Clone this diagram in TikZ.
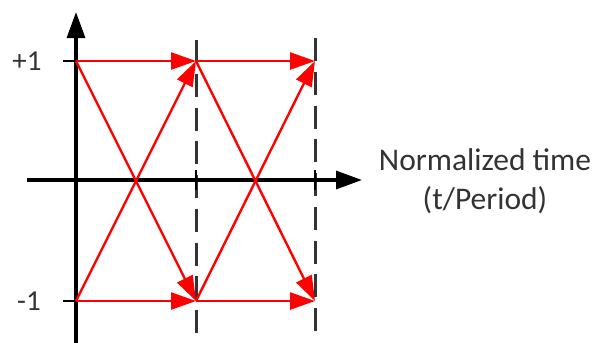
\documentclass[tikz,border=0pt]{standalone}
\usepackage{fontspec}
\setmainfont{Carlito}
\usetikzlibrary{arrows.meta}
\begin{document}
\begin{tikzpicture}[x=1pt,y=-1pt,
  axis/.style={line width=3.2pt,black},
  axarrow/.style={axis,-{Triangle[length=26pt,width=18pt]}},
  grid/.style={line width=3pt,black!80,dash pattern=on 23pt off 10.75pt},
  sig/.style={line width=2.4pt,red,-{Triangle[length=25pt,width=17pt]}},
  lab/.style={font=\fontsize{29}{34}\selectfont,text=black!80,inner sep=0pt},
  tlab/.style={font=\fontsize{31.5}{39}\selectfont,text=black!80,inner sep=0pt,align=center}]
\useasboundingbox (0,0) rectangle (595,343);
% coordinates
\coordinate (P0) at (76,61);
\coordinate (M0) at (76,301);
\coordinate (P1) at (196,61);
\coordinate (M1) at (196,301);
\coordinate (P2) at (315,61);
\coordinate (M2) at (315,301);
\coordinate (yb) at (76,343);
\coordinate (yt) at (76,12);
\coordinate (xl) at (27,180);
\coordinate (xr) at (362,180);
\coordinate (d1t) at (196,40);
\coordinate (d1b) at (196,333);
\coordinate (d2t) at (315,38);
\coordinate (d2b) at (315,331);
% dashed verticals
\draw[grid] (d1t) -- (d1b);
\draw[grid] (d2t) -- (d2b);
% x-axis ticks
\draw[line width=2.8pt] (196,170) -- (196,190);
\draw[line width=2.8pt] (315,170) -- (315,190);
% axes
\draw[axarrow] (yb) -- (yt);
\draw[axarrow] (xl) -- (xr);
% y ticks
\draw[line width=2.8pt] (63,61) -- (P0);
\draw[line width=2.8pt] (63,301) -- (M0);
% labels
\node[lab] (l1) at (27,61) {+1};
\node[lab] (l2) at (29,301) {-1};
\node[tlab] (tl) at (485,181) {Normalized time\\(t/Period)};
% signal arrows
\draw[sig] (P0) -- (P1);
\draw[sig] (P1) -- (P2);
\draw[sig] (M0) -- (M1);
\draw[sig] (M1) -- (M2);
\draw[sig] (P0) -- (M1);
\draw[sig] (M0) -- (P1);
\draw[sig] (P1) -- (M2);
\draw[sig] (M1) -- (P2);
\end{tikzpicture}
\end{document}
